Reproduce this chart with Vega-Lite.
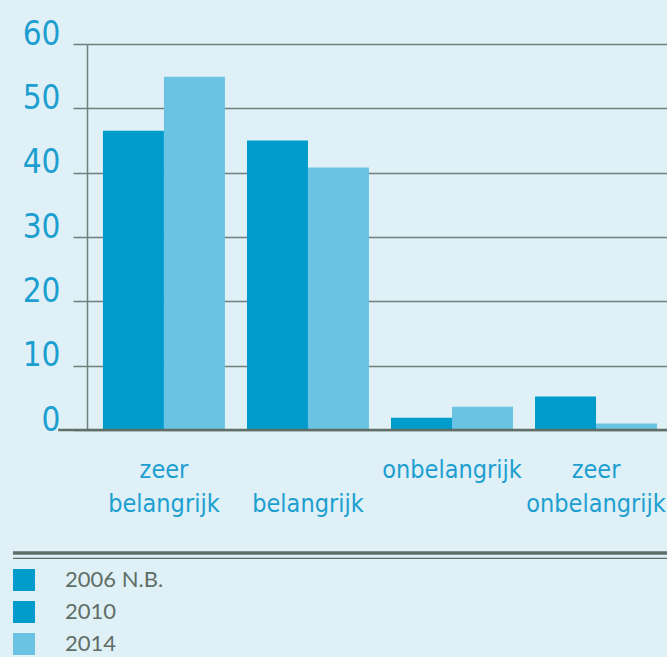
{
  "$schema": "https://vega.github.io/schema/vega-lite/v6.json",
  "width": 580,
  "height": 386,
  "autosize": {"type": "none"},
  "padding": {"left": 87, "top": 44, "right": 0, "bottom": 227},
  "background": "#dff0f7",
  "config": {"view": {"stroke": null}},
  "data": {
    "values": [
      {"cat": "zeer belangrijk", "year": "2010", "value": 46.5},
      {"cat": "zeer belangrijk", "year": "2014", "value": 54.9},
      {"cat": "belangrijk", "year": "2010", "value": 45},
      {"cat": "belangrijk", "year": "2014", "value": 40.8},
      {"cat": "onbelangrijk", "year": "2010", "value": 1.9},
      {"cat": "onbelangrijk", "year": "2014", "value": 3.6},
      {"cat": "zeer onbelangrijk", "year": "2010", "value": 5.2},
      {"cat": "zeer onbelangrijk", "year": "2014", "value": 1.0}
    ]
  },
  "layer": [
    {
      "mark": {"type": "bar"},
      "encoding": {
        "x": {
          "field": "cat",
          "type": "nominal",
          "sort": null,
          "scale": {"paddingInner": 0.153, "paddingOuter": 0.09, "align": 0.615},
          "axis": {
            "title": null,
            "domain": false,
            "ticks": false,
            "labelAngle": 0,
            "labelExpr": "datum.label == 'belangrijk' ? [' ', 'belangrijk'] : split(datum.label, ' ')",
            "labelFont": "DejaVu Sans Condensed, DejaVu Sans",
            "labelFontSize": 25,
            "labelColor": "#1c9fd0",
            "labelPadding": 27,
            "labelLineHeight": 34,
            "labelBaseline": "top",
            "labelOverlap": false
          }
        },
        "xOffset": {
          "field": "year",
          "type": "nominal",
          "scale": {"domain": ["2010", "2014"], "paddingInner": 0, "paddingOuter": 0}
        },
        "y": {
          "field": "value",
          "type": "quantitative",
          "scale": {"domain": [0, 60], "nice": false},
          "axis": {
            "title": null,
            "values": [0, 10, 20, 30, 40, 50, 60],
            "grid": true,
            "gridColor": "#6f817b",
            "gridWidth": 1.5,
            "domainColor": "#6f817b",
            "domainWidth": 1.5,
            "tickColor": "#6f817b",
            "tickWidth": 1.5,
            "tickSize": 14,
            "labelFont": "DejaVu Sans Condensed, DejaVu Sans",
            "labelFontSize": 33,
            "labelColor": "#1c9fd0",
            "labelPadding": 13,
            "labelBaseline": "alphabetic",
            "labelFlush": false,
            "labelOverlap": false
          }
        },
        "color": {
          "field": "year",
          "type": "nominal",
          "scale": {"domain": ["2006 N.B.", "2010", "2014"], "range": ["#009ccb", "#009ccb", "#6bc3e4"]},
          "legend": {
            "orient": "none",
            "legendX": -74,
            "legendY": 525,
            "title": null,
            "direction": "vertical",
            "symbolType": "square",
            "symbolSize": 484,
            "symbolStrokeWidth": 0,
            "symbolOpacity": 1,
            "labelFont": "Lato",
            "labelFontSize": 22,
            "labelColor": "#5f6e66",
            "labelOffset": 30,
            "rowPadding": 10,
            "padding": 0
          }
        }
      }
    },
    {
      "data": {"values": [{}]},
      "mark": {"type": "rule", "color": "#5f6e66", "strokeWidth": 2.5},
      "encoding": {
        "x": {"datum": 0.069, "type": "quantitative", "scale": {"domain": [0, 1], "range": [-74, 580]}, "axis": null},
        "x2": {"datum": 1},
        "y": {"datum": 0, "type": "quantitative"}
      }
    },
    {
      "data": {"values": [{}]},
      "mark": {"type": "rule", "color": "#5f6e66", "strokeWidth": 3.5},
      "encoding": {
        "x": {"datum": 0, "type": "quantitative", "scale": {"domain": [0, 1], "range": [-74, 580]}, "axis": null},
        "x2": {"datum": 1},
        "y": {"datum": -19.12, "type": "quantitative"}
      }
    },
    {
      "data": {"values": [{}]},
      "mark": {"type": "rule", "color": "#5f6e66", "strokeWidth": 1.2},
      "encoding": {
        "x": {"datum": 0, "type": "quantitative", "scale": {"domain": [0, 1], "range": [-74, 580]}, "axis": null},
        "x2": {"datum": 1},
        "y": {"datum": -19.97, "type": "quantitative"}
      }
    }
  ],
  "resolve": {"scale": {"x": "independent"}}
}
